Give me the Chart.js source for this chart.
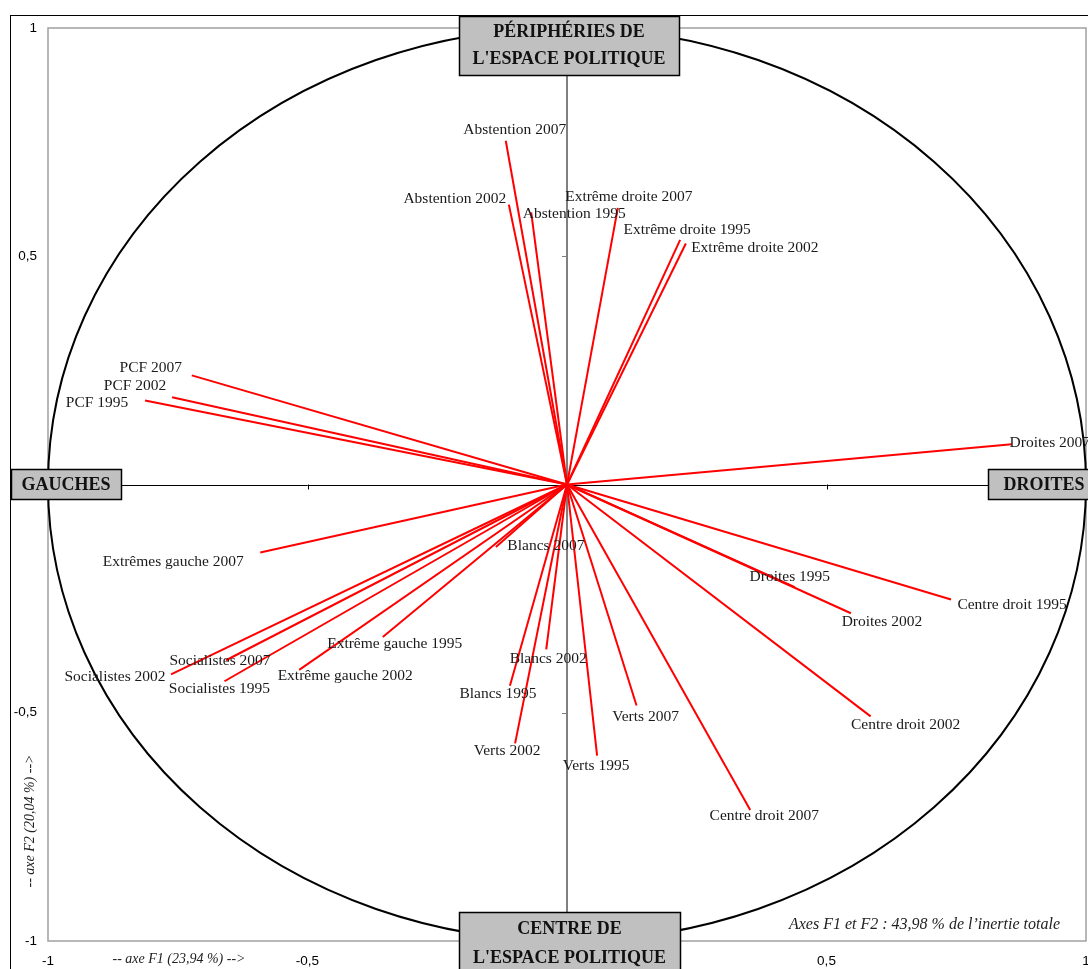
<!DOCTYPE html>
<html>
<head>
<meta charset="utf-8">
<script src="https://cdn.jsdelivr.net/npm/chart.js@4/dist/chart.umd.min.js"></script>
<style>
  html, body { margin: 0; padding: 0; background: #fff; }
  #wrap { width: 1088px; height: 969px; }
</style>
</head>
<body>
<div id="wrap"><canvas id="circleChart" width="1088" height="969"></canvas></div>
<script>
// Variables of the correlation circle (ACP, axes F1 / F2)
const variables = [
  'Abstention 2007', 'Abstention 2002', 'Abstention 1995',
  'Extrême droite 2007', 'Extrême droite 1995', 'Extrême droite 2002',
  'PCF 2007', 'PCF 2002', 'PCF 1995',
  'Droites 2007', 'Extrêmes gauche 2007',
  'Socialistes 2002', 'Socialistes 2007', 'Socialistes 1995',
  'Extrême gauche 2002', 'Extrême gauche 1995',
  'Blancs 2007', 'Blancs 2002', 'Blancs 1995',
  'Verts 2002', 'Verts 1995', 'Verts 2007',
  'Droites 1995', 'Droites 2002',
  'Centre droit 1995', 'Centre droit 2002', 'Centre droit 2007'
];
const f1 = [
  -0.118, -0.112, -0.069,
  0.098, 0.218, 0.229,
  -0.723, -0.761, -0.813,
  0.857, -0.591,
  -0.763, -0.657, -0.660,
  -0.516, -0.355,
  -0.137, -0.040, -0.110,
  -0.100, 0.058, 0.134,
  0.439, 0.547,
  0.740, 0.585, 0.353
];
const f2 = [
  0.753, 0.613, 0.596,
  0.606, 0.536, 0.528,
  0.239, 0.191, 0.184,
  0.088, -0.149,
  -0.416, -0.385, -0.431,
  -0.406, -0.334,
  -0.137, -0.361, -0.441,
  -0.567, -0.594, -0.484,
  -0.225, -0.282,
  -0.252, -0.508, -0.713
];
const axisTicks = [-1, -0.5, 0, 0.5, 1];

// label placement, pixel offset of the label centre from the end of each line
const labelDx = [9, -54, 43, 11, 7, 69, -41, -37, -48, 38, -87, -56, -6, -5, 46, 12, 50, 2, -12, -8, -1, 9, -5, 31, 61, 35, 14];
const labelDy = [-11, -6, 1, -11, -10, 4, -7, -11, 2, -1, 9, 3, 1, 8, 6, 7, -1, 10, 8, 8, 10, 11, -10, 9, 5, 9, 6];

const SERIF = '"Liberation Serif", "Times New Roman", serif';
const SANS = '"Liberation Sans", Arial, sans-serif';

const datasets = variables.map((name, i) => ({
  label: name,
  data: [{ x: 0, y: 0 }, { x: f1[i], y: f2[i] }],
  showLine: true,
  borderColor: '#ff0000',
  borderWidth: 2,
  pointRadius: 0,
  pointHoverRadius: 0
}));

function fmt(v) {
  return String(v).replace('.', ',');
}

function drawBox(ctx, x1, y1, x2, y2, lines, lineYs) {
  ctx.fillStyle = '#c0c0c0';
  ctx.fillRect(x1, y1, x2 - x1, y2 - y1);
  ctx.strokeStyle = '#000';
  ctx.lineWidth = 1.5;
  ctx.strokeRect(x1 + 0.5, y1 + 0.5, x2 - x1, y2 - y1);
  ctx.fillStyle = '#111';
  ctx.font = 'bold 18px ' + SERIF;
  ctx.textAlign = 'center';
  ctx.textBaseline = 'middle';
  lines.forEach((t, k) => ctx.fillText(t, (x1 + x2) / 2, lineYs[k]));
}

const backgroundPlugin = {
  id: 'circleBackground',
  beforeDatasetsDraw(chart) {
    const { ctx, chartArea } = chart;
    const sx = chart.scales.x, sy = chart.scales.y;
    const x0 = sx.getPixelForValue(0), y0 = sy.getPixelForValue(0);
    ctx.save();

    // outer frame
    ctx.strokeStyle = '#000';
    ctx.lineWidth = 1;
    ctx.strokeRect(10.5, 15.5, 1200, 1200);

    // plot area border
    ctx.strokeStyle = '#a0a0a0';
    ctx.lineWidth = 1.5;
    ctx.strokeRect(chartArea.left, chartArea.top, chartArea.right - chartArea.left, chartArea.bottom - chartArea.top);

    // axes through the origin
    ctx.strokeStyle = '#000';
    ctx.lineWidth = 1;
    ctx.beginPath();
    ctx.moveTo(chartArea.left, Math.round(y0) + 0.5);
    ctx.lineTo(chartArea.right, Math.round(y0) + 0.5);
    ctx.stroke();
    ctx.strokeStyle = '#808080';
    ctx.lineWidth = 2;
    ctx.beginPath();
    ctx.moveTo(x0, chartArea.top);
    ctx.lineTo(x0, chartArea.bottom);
    ctx.stroke();

    // tick marks
    ctx.lineWidth = 1;
    axisTicks.forEach(v => {
      if (v === 0) return;
      const py = Math.round(sy.getPixelForValue(v)) + 0.5;
      ctx.strokeStyle = '#808080';
      ctx.beginPath();
      ctx.moveTo(x0 - 5, py);
      ctx.lineTo(x0, py);
      ctx.stroke();
      const px = Math.round(sx.getPixelForValue(v)) + 0.5;
      ctx.strokeStyle = '#000';
      ctx.beginPath();
      ctx.moveTo(px, y0);
      ctx.lineTo(px, y0 + 5);
      ctx.stroke();
    });

    // unit circle
    ctx.strokeStyle = '#000';
    ctx.lineWidth = 2;
    ctx.beginPath();
    ctx.ellipse(x0, y0, sx.getPixelForValue(1) - x0, y0 - sy.getPixelForValue(1), 0, 0, Math.PI * 2);
    ctx.stroke();

    // tick labels
    ctx.fillStyle = '#000';
    ctx.font = '13.5px ' + SANS;
    ctx.textAlign = 'right';
    ctx.textBaseline = 'middle';
    axisTicks.forEach(v => ctx.fillText(fmt(v), 37, sy.getPixelForValue(v)));
    ctx.textAlign = 'center';
    axisTicks.forEach(v => ctx.fillText(fmt(v), sx.getPixelForValue(v), 961));
    ctx.restore();
  },
  afterDatasetsDraw(chart) {
    const { ctx } = chart;
    const sx = chart.scales.x, sy = chart.scales.y;
    const x0 = sx.getPixelForValue(0);
    ctx.save();

    // variable labels
    ctx.fillStyle = '#1a1a1a';
    ctx.font = '15.5px ' + SERIF;
    ctx.textAlign = 'center';
    ctx.textBaseline = 'middle';
    variables.forEach((name, i) => {
      const px = sx.getPixelForValue(f1[i]) + labelDx[i];
      const py = sy.getPixelForValue(f2[i]) + labelDy[i];
      ctx.fillText(name, px, py);
    });

    // axis titles
    ctx.fillStyle = '#222';
    ctx.font = 'italic 14px ' + SERIF;
    ctx.textAlign = 'center';
    ctx.fillText('-- axe F1 (23,94 %) -->', 179, 959);
    ctx.save();
    ctx.translate(30, 821);
    ctx.rotate(-Math.PI / 2);
    ctx.fillText('-- axe F2 (20,04 %) -->', 0, 0);
    ctx.restore();
    ctx.font = 'italic 16px ' + SERIF;
    ctx.textAlign = 'right';
    ctx.fillText('Axes F1 et F2 : 43,98 % de l\u2019inertie totale', 1060, 925);

    // pole boxes
    drawBox(ctx, x0 - 108, 16, x0 + 112, 75, ['PÉRIPHÉRIES DE', "L'ESPACE POLITIQUE"], [32, 59]);
    drawBox(ctx, x0 - 108, 912, x0 + 113, 990, ['CENTRE DE', "L'ESPACE POLITIQUE"], [929, 958]);
    drawBox(ctx, 11, 469, 121, 499, ['GAUCHES'], [485]);
    drawBox(ctx, 988, 469, 1100, 499, ['DROITES'], [485]);
    ctx.restore();
  }
};

new Chart(document.getElementById('circleChart'), {
  type: 'scatter',
  data: { datasets },
  options: {
    responsive: false,
    animation: false,
    layout: { padding: { left: 48, top: 28, right: 2, bottom: 28 } },
    scales: {
      x: { type: 'linear', min: -1, max: 1, display: false },
      y: { type: 'linear', min: -1, max: 1, display: false }
    },
    plugins: {
      legend: { display: false },
      tooltip: { enabled: false }
    }
  },
  plugins: [backgroundPlugin]
});
</script>
</body>
</html>
